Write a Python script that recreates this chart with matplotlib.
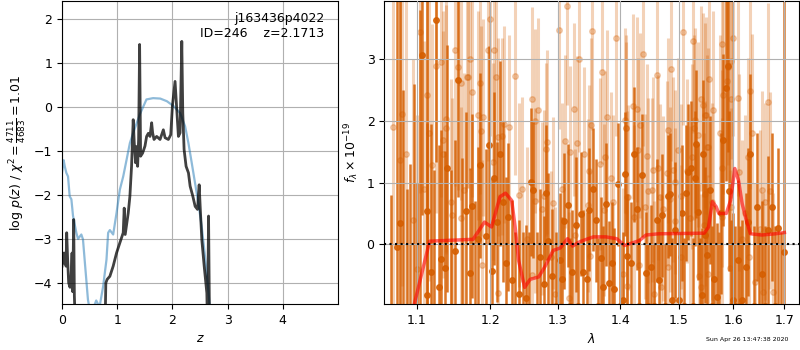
import matplotlib
matplotlib.use('Agg')
import matplotlib.pyplot as plt
import matplotlib.ticker as mtick

# ---- left panel: p(z) curves ----
z_coarse = [0.0, 0.03, 0.05, 0.079, 0.109, 0.139, 0.17, 0.2, 0.26, 0.29, 0.32, 0.35,
            0.38, 0.41, 0.47, 0.50, 0.59, 0.62, 0.68, 0.745, 0.806, 0.836, 0.867, 0.927,
            0.988, 1.048, 1.109, 1.17, 1.23, 1.29, 1.41, 1.53, 1.65, 1.78, 1.90, 2.02,
            2.14, 2.23, 2.29, 2.35, 2.41, 2.47, 2.53, 2.59, 2.65, 2.68, 2.8]
lnp_coarse = [-1.5, -1.21, -1.35, -1.5, -1.58, -2.03, -2.1, -2.48, -2.86, -3.0, -2.95, -2.9,
              -3.01, -3.47, -4.38, -4.6, -4.5, -4.4, -4.55, -4.08, -3.47, -2.86, -2.8, -2.9,
              -2.41, -1.88, -1.58, -1.2, -0.82, -0.59, -0.17, 0.17, 0.2, 0.19, 0.13, 0.02,
              -0.14, -0.44, -0.82, -1.27, -1.73, -2.18, -2.71, -3.39, -4.15, -4.6, -6.0]

z_fine = [0.0, 0.018, 0.036, 0.054, 0.073, 0.085, 0.103, 0.121, 0.145, 0.164, 0.182, 0.194,
          0.212, 0.224, 0.242, 0.40, 0.60, 0.78, 0.794, 0.818, 0.867, 0.927, 0.988, 1.048,
          1.109, 1.127, 1.145, 1.2, 1.23, 1.26, 1.29, 1.309, 1.333, 1.352, 1.37, 1.388,
          1.406, 1.424, 1.46, 1.503, 1.533, 1.564, 1.594, 1.624, 1.642, 1.667, 1.715,
          1.776, 1.836, 1.867, 1.927, 1.97, 2.0, 2.048, 2.079, 2.109, 2.139, 2.17, 2.188,
          2.212, 2.248, 2.291, 2.321, 2.37, 2.412, 2.455, 2.485, 2.503, 2.533, 2.576,
          2.624, 2.636, 2.655, 2.673, 2.9]
lnp_fine = [-3.62, -3.32, -3.55, -3.32, -3.62, -2.86, -3.5, -4.0, -4.1, -3.9, -3.32, -4.2,
            -2.56, -4.3, -5.0, -6.0, -6.0, -5.0, -4.0, -3.92, -3.85, -3.62, -3.32, -3.09,
            -2.86, -2.3, -2.9, -2.41, -2.03, -1.35, -0.29, -0.82, -1.27, -0.9, -1.35, -0.74,
            1.42, -1.12, -1.05, -0.89, -0.67, -0.6, -0.67, -0.36, -0.59, -0.74, -0.67,
            -0.74, -0.52, -0.7, -0.74, -0.63, 0.02, 0.58, -0.06, -0.67, -0.59, 1.49, -0.14,
            -0.97, -1.35, -1.5, -1.8, -2.03, -2.26, -2.33, -1.77, -2.26, -3.02, -3.62,
            -4.23, -5.0, -2.48, -5.0, -6.0]

# ---- right panel: spectrum ----
dark_wave = [1.0667, 1.0750, 1.0785, 1.0820, 1.0870, 1.0920, 1.0960, 1.1010, 1.1040, 1.1074,
             1.1131, 1.1139, 1.1184, 1.1230, 1.1258, 1.1295, 1.1325, 1.1371, 1.1406, 1.1450,
             1.1511, 1.1552, 1.1600, 1.1662, 1.1713, 1.1749, 1.1790, 1.1833, 1.1861, 1.1945,
             1.1984, 1.2022, 1.2059, 1.2102, 1.2145, 1.2189, 1.2223, 1.2261, 1.2310, 1.2360,
             1.2417, 1.2470, 1.2516, 1.2560, 1.2590, 1.2629, 1.2680, 1.2730, 1.2790, 1.2820,
             1.2846, 1.2916, 1.2970, 1.3035, 1.3061, 1.3101, 1.3154, 1.3190, 1.3226, 1.3279,
             1.3320, 1.3363, 1.3400, 1.3454, 1.3490, 1.3550, 1.3597, 1.3640, 1.3678, 1.3720,
             1.3769, 1.3814, 1.3858, 1.3900, 1.3956, 1.4000, 1.4040, 1.4077, 1.4116, 1.4177,
             1.4233, 1.4273, 1.4320, 1.4369, 1.4427, 1.4470, 1.4518, 1.4570, 1.4616, 1.4661,
             1.4703, 1.4760, 1.4808, 1.4848, 1.4890, 1.4936, 1.5000, 1.5055, 1.5090, 1.5126,
             1.5173, 1.5222, 1.5260, 1.5294, 1.5307, 1.5343, 1.5390, 1.5427, 1.5445, 1.5476,
             1.5507, 1.5562, 1.5600, 1.5647, 1.5697, 1.5740, 1.5772, 1.5815, 1.5860, 1.5898,
             1.5922, 1.5960, 1.6000, 1.6040, 1.6087, 1.6130, 1.6175, 1.6240, 1.6291, 1.6329,
             1.6390, 1.6453, 1.6500, 1.6563, 1.6620, 1.6669, 1.6748, 1.6810, 1.6879, 1.6940,
             1.7000]
dark_flux = [-1.30, -0.05, 0.34, -1.20, -1.30, -1.10, -1.40, -1.50, -1.20, 3.07,
             -0.83, 0.54, -0.45, -1.40, 3.64, -0.69, -0.24, -0.38, 1.23, -1.20,
             -0.11, 2.67, -1.10, 0.54, -0.47, 0.62, -1.20, 0.08, 1.28, 0.14,
             1.61, -0.43, 1.07, 0.36, 1.47, 0.69, -0.31, 0.44, -0.58, -1.30,
             -0.81, -1.10, -0.88, -1.20, 1.01, 0.88, -1.10, -0.21, -0.64, 0.84,
             0.06, -0.52, -1.00, -0.26, -0.56, 0.38, 0.63, -1.00, -0.45, 0.32,
             -1.00, 0.49, -0.45, -0.57, 0.56, 0.89, 0.39, -1.00, -0.23, -0.70,
             0.65, -0.63, -0.31, -0.73, 0.97, -1.00, -0.90, 1.14, -0.19, -0.31,
             1.46, 0.58, -1.00, 1.12, -0.47, -1.00, -0.37, -1.00, 0.39, -0.58,
             0.47, -1.00, 0.78, 0.81, -0.90, 0.23, -0.90, 0.51, -1.00, 0.83,
             1.17, 1.23, -1.00, 1.07, 1.63, 0.52, -1.10, -0.83, 1.46, 0.15,
             -0.18, 0.88, -1.00, -0.57, -0.86, -1.10, 0.50, 1.69, 2.53, 2.89,
             0.87, -1.00, -0.90, -1.00, -0.25, -1.00, -0.90, -0.37, 0.36, 1.47,
             -1.00, 0.60, -1.10, -0.49, -1.00, 0.23, 0.60, -1.00, 0.27, -1.10,
             -0.13]
dark_err = [2.10, 4.50, 4.20, 3.70, 2.20, 2.40, 4.00, 2.50, 5.00, 2.60,
            2.80, 3.60, 2.40, 2.60, 2.30, 2.30, 2.10, 1.90, 2.00, 2.40,
            1.80, 1.90, 2.50, 1.60, 1.70, 1.50, 1.90, 1.50, 1.50, 1.40,
            1.60, 1.50, 1.40, 1.30, 1.50, 1.30, 1.40, 1.20, 1.30, 1.50,
            1.20, 1.30, 1.20, 1.40, 1.20, 1.10, 1.30, 1.10, 1.10, 1.10,
            1.10, 1.10, 1.20, 1.10, 1.00, 1.10, 1.00, 1.10, 1.00, 1.10,
            1.00, 1.00, 1.00, 1.10, 1.00, 1.00, 1.00, 1.10, 1.00, 1.00,
            1.00, 1.00, 1.00, 1.00, 1.00, 1.00, 1.10, 1.00, 1.00, 1.00,
            1.10, 1.00, 1.10, 1.00, 1.00, 1.00, 1.00, 1.00, 1.00, 1.00,
            1.00, 1.00, 1.00, 1.00, 1.00, 1.10, 1.10, 1.10, 1.10, 1.10,
            1.10, 1.10, 1.10, 1.10, 1.20, 1.10, 1.20, 1.10, 1.20, 1.10,
            1.10, 1.20, 1.30, 1.20, 1.20, 1.30, 1.30, 1.40, 1.50, 1.40,
            1.30, 1.40, 1.40, 1.30, 1.30, 1.30, 1.30, 1.20, 1.20, 1.30,
            1.30, 1.20, 1.30, 1.20, 1.30, 1.20, 1.20, 1.30, 1.30, 1.30,
            4.50]

light_wave = [1.0700, 1.0781, 1.0814, 1.0858, 1.0950, 1.1000, 1.1040, 1.1090, 1.1139, 1.1166,
              1.1197, 1.1254, 1.1317, 1.1348, 1.1352, 1.1389, 1.1393, 1.1452, 1.1474, 1.1511,
              1.1556, 1.1589, 1.1597, 1.1634, 1.1680, 1.1685, 1.1721, 1.1741, 1.1825, 1.1861,
              1.1871, 1.1880, 1.1903, 1.1974, 1.2002, 1.2045, 1.2059, 1.2083, 1.2112, 1.2116,
              1.2165, 1.2203, 1.2275, 1.2358, 1.2417, 1.2466, 1.2540, 1.2605, 1.2610, 1.2654,
              1.2660, 1.2695, 1.2756, 1.2795, 1.2825, 1.2840, 1.2896, 1.2922, 1.2958, 1.3024,
              1.3071, 1.3112, 1.3150, 1.3174, 1.3195, 1.3257, 1.3262, 1.3304, 1.3331, 1.3416,
              1.3469, 1.3495, 1.3500, 1.3522, 1.3534, 1.3667, 1.3694, 1.3732, 1.3748, 1.3781,
              1.3841, 1.3884, 1.3928, 1.4049, 1.4077, 1.4089, 1.4093, 1.4105, 1.4110, 1.4133,
              1.4217, 1.4220, 1.4273, 1.4301, 1.4305, 1.4330, 1.4386, 1.4415, 1.4444, 1.4473,
              1.4530, 1.4558, 1.4561, 1.4616, 1.4633, 1.4673, 1.4690, 1.4731, 1.4790, 1.4818,
              1.4820, 1.4848, 1.4860, 1.4906, 1.4936, 1.4940, 1.4995, 1.5043, 1.5046, 1.5083,
              1.5144, 1.5204, 1.5234, 1.5264, 1.5282, 1.5294, 1.5354, 1.5357, 1.5403, 1.5406,
              1.5445, 1.5463, 1.5476, 1.5480, 1.5494, 1.5507, 1.5525, 1.5536, 1.5549, 1.5599,
              1.5628, 1.5753, 1.5785, 1.5788, 1.5796, 1.5815, 1.5879, 1.5898, 1.5941, 1.5958,
              1.5960, 1.5963, 1.6004, 1.6099, 1.6118, 1.6164, 1.6226, 1.6278, 1.6310, 1.6323,
              1.6356, 1.6420, 1.6517, 1.6551, 1.6583, 1.6615, 1.6681, 1.6714, 1.6779]
light_flux = [1.90, 1.37, 2.12, 1.47, 0.40, -0.40, 3.44, 0.90, 2.42, 1.80,
              1.28, 2.90, 2.96, 1.69, 1.46, 1.88, 2.04, 0.69, 0.47, 3.15,
              2.88, 0.42, 2.62, 0.88, 2.72, 2.71, 3.01, 2.47, 2.09, 2.61,
              1.84, -0.33, 2.06, 3.15, 3.66, 1.34, 3.15, 2.71, 1.74, -0.79,
              1.75, 1.95, 1.90, 2.73, 0.80, 0.89, 0.08, 2.35, -0.50, 2.00,
              0.71, 2.18, 0.58, 0.78, 1.54, 1.66, -0.21, 0.67, -0.80, 3.47,
              0.90, 1.67, 3.86, -0.88, 1.49, 2.19, 0.15, 1.65, 3.00, 1.47,
              0.63, 1.19, -0.19, 1.94, 3.46, 1.30, 2.80, 0.56, 1.42, 2.07,
              1.07, 0.69, 3.35, -0.49, 2.01, 1.89, 1.89, 0.77, -0.68, 0.76,
              2.24, 0.44, 2.19, 1.53, -0.34, 1.93, 3.09, 0.61, 1.43, 0.87,
              0.88, 1.21, -0.80, 2.74, 1.24, 0.77, -0.70, 0.58, 1.15, 1.85,
              -0.37, 0.73, 2.85, 1.21, 1.01, 0.38, 1.53, 0.78, -0.21, 3.44,
              1.19, 0.42, 1.42, 3.30, 1.89, 2.01, 1.78, -0.52, 2.36, -0.69,
              2.26, 0.31, 2.09, 0.82, 2.09, 1.58, 1.58, -0.48, 2.69, 0.69,
              2.18, 1.80, 3.25, 1.23, 0.45, 2.42, 2.65, 2.88, -0.39, 0.61,
              2.98, 2.35, 3.35, 2.38, 1.17, 0.09, 0.50, 1.42, -0.21, 2.49,
              1.81, -0.61, 0.25, 0.88, -0.77, 0.69, 2.31, 0.87, -0.77]
light_err = [3.0, 2.9, 2.8, 2.7, 2.6, 2.5, 2.6, 2.4, 2.5, 2.4,
             2.3, 2.4, 2.2, 2.1, 2.0, 2.0, 2.2, 2.0, 1.9, 2.2,
             2.0, 1.8, 1.9, 1.9, 1.8, 1.8, 1.8, 1.7, 1.7, 1.8,
             1.7, 1.7, 1.6, 1.8, 1.9, 1.6, 1.8, 1.7, 1.6, 1.6,
             1.6, 1.6, 1.5, 1.6, 1.5, 1.5, 1.5, 1.5, 1.5, 1.5,
             1.5, 1.5, 1.4, 1.4, 1.4, 1.5, 1.4, 1.4, 1.4, 1.6,
             1.4, 1.4, 1.6, 1.4, 1.4, 1.4, 1.4, 1.4, 1.5, 1.4,
             1.4, 1.4, 1.4, 1.4, 1.6, 1.4, 1.5, 1.4, 1.4, 1.4,
             1.4, 1.4, 1.6, 1.4, 1.5, 1.4, 1.5, 1.4, 1.4, 1.5,
             1.5, 1.5, 1.5, 1.5, 1.5, 1.5, 1.5, 1.5, 1.5, 1.5,
             1.5, 1.5, 1.5, 1.5, 1.5, 1.5, 1.5, 1.5, 1.5, 1.5,
             1.5, 1.5, 1.5, 1.5, 1.5, 1.5, 1.5, 1.5, 1.5, 1.5,
             1.5, 1.5, 1.5, 1.5, 1.5, 1.5, 1.5, 1.5, 1.5, 1.5,
             1.5, 1.5, 1.5, 1.5, 1.6, 1.5, 1.6, 1.6, 1.6, 1.6,
             1.6, 1.6, 1.6, 1.6, 1.6, 1.6, 1.6, 1.6, 1.6, 1.6,
             1.6, 1.6, 1.6, 1.6, 1.6, 1.6, 1.6, 1.6, 1.6, 1.6,
             1.6, 1.6, 1.6, 1.6, 1.6, 1.6, 1.6, 1.6, 1.6]

model_wave = [1.097, 1.117, 1.176, 1.192, 1.202, 1.214, 1.222, 1.231, 1.236, 1.241,
              1.250, 1.258, 1.271, 1.280, 1.293, 1.304, 1.315, 1.323, 1.334, 1.356,
              1.376, 1.394, 1.407, 1.416, 1.432, 1.443, 1.465, 1.546, 1.554, 1.561,
              1.568, 1.573, 1.587, 1.595, 1.603, 1.610, 1.617, 1.625, 1.633, 1.655,
              1.682, 1.700]
model_flux = [-0.97, 0.05, 0.08, 0.36, 0.28, 0.77, 0.83, 0.71, 0.28, -0.26,
              -0.70, -0.57, -0.53, -0.37, -0.10, -0.06, 0.09, -0.03, 0.04, 0.12,
              0.12, 0.09, -0.02, 0.01, 0.06, 0.15, 0.17, 0.18, 0.28, 0.69,
              0.61, 0.50, 0.50, 0.71, 1.23, 1.04, 0.66, 0.39, 0.17, 0.15,
              0.17, 0.19]

G141 = (0.835, 0.369, 0.0)
plt.rcParams.update({'font.size': 9})

fig = plt.figure(figsize=(8, 3.5), dpi=100)
ax1 = fig.add_axes([0.0775, 0.1314, 0.345, 0.866])
ax2 = fig.add_axes([0.4804, 0.1314, 0.5186, 0.866])

# p(z)
ax1.plot(z_coarse, lnp_coarse, color='tab:blue', alpha=0.5, linewidth=1.6)
ax1.plot(z_fine, lnp_fine, color='k', alpha=0.75, linewidth=2)
ax1.set_xlim(0, 5.0)
ax1.set_ylim(-4.48, 2.41)
ax1.set_xticks([0, 1, 2, 3, 4])
ax1.set_yticks([-4, -3, -2, -1, 0, 1, 2])
ax1.grid()
ax1.set_xlabel(r'$z$')
ax1.set_ylabel(r'$\log\,p(z)$' + ' / ' + r'$\chi^2=\frac{4711}{4683}=1.01$')
ax1.text(0.95, 0.965, 'j163436p4022\nID=246    z=2.1713', ha='right', va='top',
         transform=ax1.transAxes, fontsize=9)

# spectrum
ax2.errorbar(light_wave, light_flux, yerr=light_err, fmt='o', color=G141, alpha=0.28,
             markersize=4, elinewidth=2.2, capsize=0, zorder=1)
ax2.errorbar(dark_wave, dark_flux, yerr=dark_err, fmt='o', color=G141, alpha=0.85,
             markersize=4, elinewidth=1.8, capsize=0, zorder=1.2)
ax2.plot(model_wave, model_flux, color='red', alpha=0.6, linewidth=2.5, zorder=3)
ax2.axhline(0, color='k', linestyle=':', linewidth=1.5, zorder=4)
ax2.set_xscale('log')
ax2.set_xlim(1.0587, 1.730)
ax2.set_ylim(-0.97, 3.95)
ax2.xaxis.set_major_locator(mtick.FixedLocator([1.1, 1.2, 1.3, 1.4, 1.5, 1.6, 1.7]))
ax2.xaxis.set_major_formatter(mtick.FixedFormatter(['1.1', '1.2', '1.3', '1.4', '1.5', '1.6', '1.7']))
ax2.xaxis.set_minor_locator(mtick.NullLocator())
ax2.set_yticks([0, 1, 2, 3])
ax2.set_axisbelow(False)
ax2.grid(zorder=2)
ax2.set_xlabel(r'$\lambda$')
ax2.set_ylabel(r'$f_\lambda\times10^{-19}$')

fig.text(0.985, 0.022, 'Sun Apr 26 13:47:38 2020', ha='right', va='bottom', fontsize=4.5)

plt.savefig('out.png', dpi=100)
plt.close()
